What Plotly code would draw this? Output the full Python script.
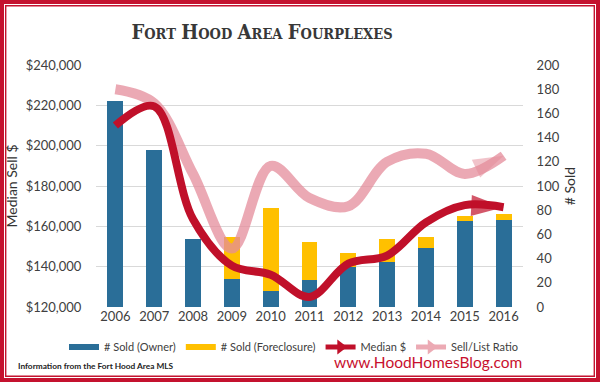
import plotly.graph_objects as go

years = ["2006", "2007", "2008", "2009", "2010", "2011", "2012", "2013", "2014", "2015", "2016"]
sold_owner = [170, 130, 56, 23, 13, 22, 33, 37, 49, 71, 72]
sold_foreclosure = [0, 0, 0, 35, 69, 32, 12, 19, 9, 4, 5]
median_price = [210000, 219500, 163500, 140500, 136000, 125000, 141500, 145500, 162000, 170500, 169500]
sell_list_ratio = [0.988, 0.981, 0.946, 0.909, 0.950, 0.934, 0.930, 0.952, 0.956, 0.946, 0.955]

price_ticks = [120000, 140000, 160000, 180000, 200000, 220000, 240000]
sold_ticks = list(range(0, 201, 20))

title_text = "Fort Hood Area Fourplexes"
source_text = "Information from the Fort Hood Area MLS"
site_text = "www.HoodHomesBlog.com"

BLUE = "#2A6E98"
GOLD = "#FFC000"
RED = "#C0102A"
PINK = "rgba(228,140,155,0.75)"
TXT = "#404040"
CLEAR = "rgba(0,0,0,0)"

W, H = 600, 382
ML, MR, MT, MB = 96, 77, 65, 75
PW, PH = W - ML - MR, H - MT - MB


def px(x):
    return (x - ML) / PW


def py(y):
    return (H - MB - y) / PH


def small_caps(s, big=20, small=14.5):
    out = []
    for word in s.split(" "):
        out.append(f"<span style='font-size:{big}px'>{word[0].upper()}</span>"
                   f"<span style='font-size:{small}px'>{word[1:].upper()}</span>")
    return " ".join(out)


fig = go.Figure()

fig.add_trace(go.Bar(x=years, y=sold_owner, name="# Sold (Owner)", marker_color=BLUE,
                     marker_line_width=0, yaxis="y", showlegend=False))
fig.add_trace(go.Bar(x=years, y=sold_foreclosure, name="# Sold (Foreclosure)", marker_color=GOLD,
                     marker_line_width=0, yaxis="y", showlegend=False))

n = len(years)
fig.add_trace(go.Scatter(
    x=years, y=sell_list_ratio, name="Sell/List Ratio", yaxis="y2", mode="lines+markers",
    line=dict(color=PINK, width=10, shape="spline", smoothing=1.0),
    marker=dict(symbol="arrow", size=[0] * (n - 1) + [32], angleref="previous", color=PINK,
                line_width=0),
    showlegend=False))
fig.add_trace(go.Scatter(
    x=years, y=median_price, name="Median $", yaxis="y3", mode="lines+markers",
    line=dict(color=RED, width=8, shape="spline", smoothing=1.0),
    marker=dict(symbol="arrow", size=[0] * (n - 1) + [34], angleref="previous", color=RED,
                line_width=0),
    showlegend=False))

# legend entries
fig.add_trace(go.Scatter(x=[None], y=[None], mode="lines", name="# Sold (Owner)",
                         line=dict(color=BLUE, width=6)))
fig.add_trace(go.Scatter(x=[None], y=[None], mode="lines", name="# Sold (Foreclosure)",
                         line=dict(color=GOLD, width=6)))
fig.add_trace(go.Scatter(x=[None], y=[None], mode="lines+markers", name="Median $",
                         line=dict(color=RED, width=5),
                         marker=dict(symbol="triangle-right", size=13, color=RED)))
fig.add_trace(go.Scatter(x=[None], y=[None], mode="lines+markers", name="Sell/List Ratio",
                         line=dict(color="rgba(236,170,180,1)", width=5),
                         marker=dict(symbol="triangle-right", size=13, color="rgba(236,170,180,1)")))

axis_font = dict(family="Lato, Open Sans, sans-serif", size=13, color=TXT)

fig.update_layout(
    width=W, height=H,
    margin=dict(l=ML, r=MR, t=MT, b=MB, autoexpand=False),
    paper_bgcolor="white", plot_bgcolor="white",
    barmode="stack", bargap=0.59,
    font=dict(family="Lato, Open Sans, sans-serif", color=TXT),
    title=dict(text=small_caps(title_text), x=262 / W, xref="container",
               xanchor="center", y=1 - 33 / H, yanchor="middle",
               font=dict(family="DejaVu Serif Condensed, DejaVu Serif, serif", color="#383838",
                         weight="bold")),
    xaxis=dict(type="category", range=[-0.5, len(years) - 0.5], tickfont=axis_font,
               showgrid=False, showline=False, ticks="", zeroline=False),
    yaxis=dict(side="right", range=[0, 200], tickvals=sold_ticks, tickfont=axis_font,
               showgrid=False, zeroline=False, ticks="outside", ticklen=10, tickcolor=CLEAR,
               title=dict(text="# Sold", font=dict(size=14, color="#333"), standoff=6)),
    yaxis2=dict(overlaying="y", range=[0.88, 1.0], visible=False, showgrid=False),
    yaxis3=dict(overlaying="y", side="left", range=[120000, 240000], tickvals=price_ticks,
                tickformat="$,.0f", tickfont=axis_font, showgrid=True, gridcolor="#D9D9D9",
                gridwidth=1, zeroline=False, ticks="outside", ticklen=11, tickcolor=CLEAR,
                title=dict(text="Median Sell $", font=dict(size=14, color="#333"), standoff=4)),
    legend=dict(orientation="h", xref="paper", x=px(64), xanchor="left",
                yref="paper", y=py(347), yanchor="middle",
                font=dict(size=11, color=TXT), itemwidth=30, traceorder="normal"),
    showlegend=True,
)

fig.add_annotation(text=source_text, xref="paper", yref="paper", x=px(16), y=py(366),
                   xanchor="left", yanchor="middle", showarrow=False,
                   font=dict(size=8.3, color="#222", family="Lato, sans-serif", weight="bold"))
fig.add_annotation(text=site_text, xref="paper", yref="paper", x=px(428), y=py(362),
                   xanchor="center", yanchor="middle", showarrow=False,
                   font=dict(size=15.5, color="#C8102E", family="Lato, sans-serif"))

# double red frame
fig.add_shape(type="rect", xref="paper", yref="paper", x0=px(2), x1=px(W - 2), y0=py(H - 2), y1=py(2),
              line=dict(color="#C4122F", width=4), layer="above")
fig.add_shape(type="rect", xref="paper", yref="paper", x0=px(5.7), x1=px(W - 5.7), y0=py(H - 5.7),
              y1=py(5.7), line=dict(color="#C4122F", width=1.4), layer="above")

fig.write_html("out.html", config={"displayModeBar": False},
               post_script="document.body.style.margin='0';document.body.style.overflow='hidden';")
